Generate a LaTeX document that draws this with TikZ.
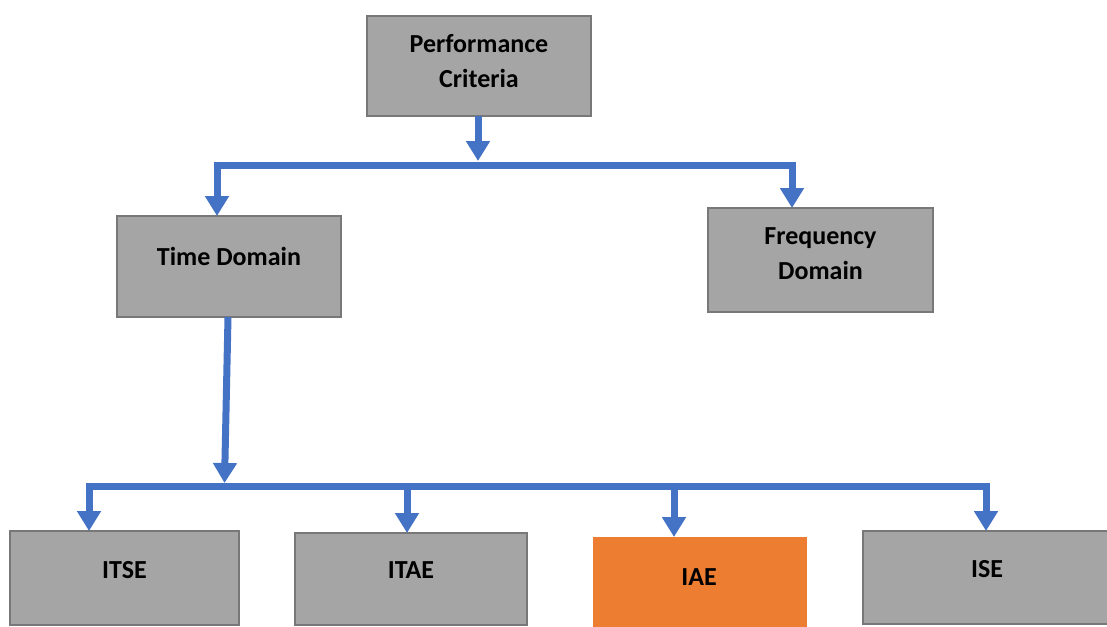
\documentclass[tikz,border=0pt]{standalone}
\usepackage{fontspec}
\setmainfont{Carlito}
\usetikzlibrary{arrows.meta}
\definecolor{boxgray}{HTML}{A5A5A5}
\definecolor{edgegray}{HTML}{787878}
\definecolor{linkblue}{HTML}{4472C4}
\definecolor{accent}{HTML}{ED7D31}
\tikzset{busTip/.tip={Triangle[width=23pt,length=20pt]}}
\begin{document}
\begin{tikzpicture}[x=1pt,y=-1pt,
  box/.style={draw=edgegray, line width=2pt, fill=boxgray, inner sep=0pt, outer sep=0pt},
  hot/.style={fill=accent, inner sep=0pt, outer sep=0pt},
  lbl/.style={font=\bfseries\fontsize{26}{35}\selectfont, align=center, inner sep=0pt},
  link/.style={draw=linkblue, line width=7pt, line join=miter},
  tip/.style={-busTip},
  tips/.style={busTip-busTip}]
\useasboundingbox (0,0) rectangle (1107,626);

% boxes
\node[box, minimum width=224pt, minimum height=100pt] (pc) at (479,66) {};
\node[box, minimum width=224pt, minimum height=101pt] (td) at (229,266.5) {};
\node[box, minimum width=225pt, minimum height=104pt] (fd) at (820.5,260) {};
\node[box, minimum width=229pt, minimum height=94pt] (itse) at (124.5,578) {};
\node[box, minimum width=232pt, minimum height=92pt] (itae) at (411,579) {};
\node[hot, minimum width=214pt, minimum height=93pt] (iae) at (700,583.5) {};
\node[box, minimum width=252pt, minimum height=93pt] (ise) at (989,577.5) {};

% captions
\node[lbl] (pc-t) at (479,61) {Performance\\Criteria};
\node[lbl] (td-t) at (229,256.5) {Time Domain};
\node[lbl] (fd-t) at (820.5,253.5) {Frequency\\Domain};
\node[lbl] (itse-t) at (124.5,570) {ITSE};
\node[lbl] (itae-t) at (411,570.5) {ITAE};
\node[lbl] (iae-t) at (699,577) {IAE};
\node[lbl] (ise-t) at (987,569.5) {ISE};

% upper bus
\coordinate (p1) at (478,161);
\coordinate (b1) at (217,165);
\coordinate (b2) at (792,165);
\draw[link, tip] (pc.south -| p1) -- (p1);
\draw[link, tips] (b1 |- td.north) -- (b1) -- (b2) -- (b2 |- fd.north);

% lower bus
\coordinate (t1) at (224.5,483);
\coordinate (c1) at (89,486);
\coordinate (c2) at (407,486);
\coordinate (c3) at (674,486);
\coordinate (c4) at (986,486);
\draw[link, tip] ([xshift=-1pt]td.south) -- (t1);
\draw[link, tips] (c1 |- itse.north) -- (c1) -- (c4) -- (c4 |- ise.north);
\draw[link, tip] (c2) -- (c2 |- itae.north);
\draw[link, tip] (c3) -- (c3 |- iae.north);
\end{tikzpicture}
\end{document}
